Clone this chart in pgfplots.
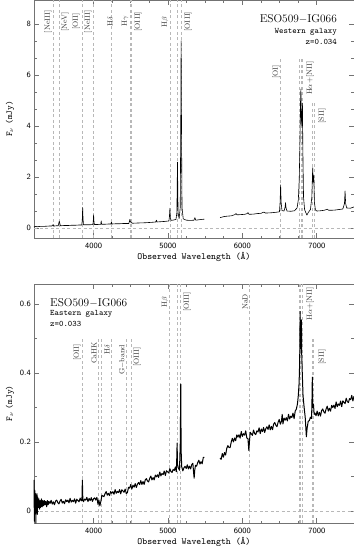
\documentclass[border=0pt]{standalone}
\usepackage{pgfplots}
\pgfplotsset{compat=1.18}
\definecolor{frm}{gray}{0.45}
\definecolor{dsh}{gray}{0.72}
\tikzset{
  spec/.style={black, line width=0.6bp, line join=round},
  vl/.style={dsh, line width=0.6bp, dash pattern=on 3bp off 2.5bp},
  lab/.style={rotate=90, anchor=center, inner sep=0pt, font=\fontsize{7.5}{8}\selectfont, text=black!80},
}
\pgfplotsset{
  specax/.style={
    scale only axis, width=320bp,
    xmin=3200, xmax=7500,
    xtick={4000,5000,6000,7000}, minor x tick num=3,
    tick align=inside, tick pos=both,
    xticklabel pos=lower, yticklabel pos=left,
    major tick length=5bp, minor tick length=2.5bp,
    axis line style={frm, line width=0.6bp},
    every tick/.style={frm, line width=0.6bp},
    scaled ticks=false,
    /pgf/number format/assume math mode=true,
    x tick label style={/pgf/number format/1000 sep={}, font=\sffamily\fontsize{8}{9}\selectfont, anchor=center, yshift=-8bp, inner sep=0pt},
    y tick label style={font=\sffamily\fontsize{8}{9}\selectfont, anchor=east, xshift=-3bp, inner sep=0pt},
    xlabel={\texttt{\fontsize{9.4}{10}\selectfont Observed Wavelength (\AA)}},
    ylabel={\fontsize{9}{10}\selectfont\texttt{F}$_{\nu}$ \texttt{(mJy)}},
    xlabel style={at={(axis description cs:0.5,-0.08)}, anchor=center, inner sep=0pt},
    ylabel style={at={(axis description cs:-0.075,0.5)}, anchor=center, inner sep=0pt},
    clip=false,
  },
}
\begin{document}
\begin{tikzpicture}
% ---------------- Western galaxy ----------------
\begin{axis}[specax, height=238bp, at={(34bp,0bp)}, anchor=north west,
  ymin=-0.4, ymax=8.95, ytick={0,2,4,6,8}, minor y tick num=2]
\draw[vl] (3200,0) -- (7500,0);
\pgfplotsinvokeforeach{3455,3540,3854,4001,4241,4488,4511,5026,5128,5177}{
  \draw[vl] (#1,-0.4) -- (#1,8.95);}
\draw[vl] (6514,-0.4) -- (6514,6.7);
\pgfplotsinvokeforeach{6771,6786,6807}{\draw[vl] (#1,-0.4) -- (#1,6.7);}
\pgfplotsinvokeforeach{6945,6960}{\draw[vl] (#1,-0.4) -- (#1,5.0);}
\addplot[spec] coordinates {
(3200,0.03)(3220,0.06)(3240,0.04)(3260,0.05)(3300,0.06)(3350,0.06)(3400,0.07)(3440,0.07)
(3455,0.12)(3470,0.07)(3500,0.08)(3525,0.08)(3540,0.26)(3555,0.08)(3600,0.09)(3650,0.09)
(3700,0.10)(3750,0.10)(3800,0.11)(3843,0.11)(3849,0.35)(3854,0.80)(3859,0.35)(3865,0.12)
(3900,0.12)(3950,0.12)(3992,0.13)(3997,0.30)(4001,0.51)(4005,0.28)(4011,0.13)(4050,0.13)
(4097,0.14)(4103,0.27)(4109,0.14)(4150,0.14)(4200,0.15)(4233,0.15)(4241,0.22)(4249,0.15)
(4300,0.16)(4350,0.16)(4400,0.17)(4474,0.17)(4482,0.25)(4488,0.33)(4494,0.24)(4511,0.20)
(4525,0.18)(4600,0.19)(4700,0.20)(4800,0.22)(4837,0.23)(4845,0.30)(4853,0.23)(4900,0.24)
(4950,0.25)(5013,0.27)(5020,0.45)(5026,0.77)(5032,0.40)(5042,0.29)(5080,0.31)(5108,0.33)
(5120,0.6)(5128,2.58)(5136,0.6)(5150,0.36)(5165,0.8)(5172,4.0)(5177,7.35)(5182,4.0)
(5189,0.8)(5205,0.36)(5220,0.33)(5250,0.30)(5300,0.29)(5350,0.30)(5362,0.40)(5374,0.30)
(5400,0.31)(5450,0.33)(5490,0.34)};
\addplot[spec] coordinates {
(5700,0.40)(5750,0.44)(5800,0.46)(5850,0.47)(5900,0.52)(5915,0.56)(5930,0.51)(5980,0.52)
(6030,0.53)(6065,0.56)(6075,0.60)(6090,0.53)(6150,0.54)(6200,0.56)(6250,0.57)(6290,0.62)
(6310,0.58)(6380,0.59)(6450,0.61)(6498,0.63)(6507,1.0)(6514,1.69)(6521,1.0)(6532,0.68)
(6560,0.66)(6573,0.80)(6580,0.99)(6587,0.78)(6600,0.66)(6650,0.65)(6700,0.67)(6735,0.78)
(6752,1.1)(6764,1.9)(6773,3.2)(6781,4.9)(6786,5.45)(6792,4.3)(6800,4.0)(6807,4.9)
(6813,3.0)(6822,1.2)(6836,0.72)(6852,0.6)(6868,0.50)(6885,0.60)(6915,0.72)(6933,1.2)
(6945,2.36)(6953,1.8)(6960,2.05)(6968,1.0)(6982,0.70)(7000,0.66)(7050,0.67)(7100,0.69)
(7140,0.73)(7160,0.69)(7200,0.69)(7250,0.70)(7300,0.72)(7350,0.74)(7372,0.95)(7380,1.45)
(7388,0.95)(7402,0.78)(7450,0.77)(7500,0.82)};
\node[lab] at (3388,8.1) {[NeIII]};
\node[lab] at (3617,8.1) {[NeV]};
\node[lab] at (3765,8.1) {[OII]};
\node[lab] at (3926,8.1) {[NeIII]};
\node[lab] at (4221,8.1) {H$\delta$};
\node[lab] at (4423,8.1) {H$\gamma$};
\node[lab] at (4598,8.1) {[OIII]};
\node[lab] at (4961,8.1) {H$\beta$};
\node[lab] at (5270,8.1) {[OIII]};
\node[lab] at (6453,6.12) {[OI]};
\node[lab] at (6910,5.88) {H$\alpha$+[NII]};
\node[lab] at (7071,4.39) {[SII]};
\node[anchor=east, inner sep=0pt, font=\fontsize{11.4}{12}\selectfont] at (axis description cs:0.947,0.92) {ESO509$-$IG066};
\node[anchor=east, inner sep=0pt, font=\ttfamily\fontsize{8.4}{9}\selectfont] at (axis description cs:0.947,0.866) {Western galaxy};
\node[anchor=east, inner sep=0pt, font=\ttfamily\fontsize{8.4}{9}\selectfont] at (axis description cs:0.947,0.824) {z=0.034};
\end{axis}
% ---------------- Eastern galaxy ----------------
\begin{axis}[specax, height=239bp, at={(34bp,-284bp)}, anchor=north west,
  ymin=-0.035, ymax=0.658, ytick={0,0.2,0.4,0.6}, minor y tick num=1,
  y tick label style={/pgf/number format/fixed}]
\draw[vl] (3200,0) -- (7500,0);
\pgfplotsinvokeforeach{5022,5123,5172,6087,6764,6780,6800}{
  \draw[vl] (#1,-0.035) -- (#1,0.658);}
\pgfplotsinvokeforeach{3850,4064,4099,4237,4446,4507,6939,6953}{
  \draw[vl] (#1,-0.035) -- (#1,0.50);}
\addplot[spec, line width=1bp] coordinates {
(3200,0.09)(3205,-0.03)(3210,0.06)(3215,0.00)(3220,0.05)(3225,-0.035)(3230,0.04)(3235,0.01)
(3240,0.05)(3245,-0.01)(3250,0.04)(3258,0.01)(3266,0.035)(3274,0.005)(3282,0.03)(3290,0.01)
(3300,0.035)(3310,0.012)(3320,0.03)(3330,0.015)(3340,0.03)(3350,0.018)(3360,0.028)(3370,0.012)
(3380,0.03)(3390,0.018)
(3400,0.028)(3415,0.0218)(3430,0.0309)(3445,0.0199)(3460,0.0266)(3475,0.018)(3490,0.0286)(3505,0.0313)
(3520,0.0243)(3535,0.0205)(3550,0.0288)(3565,0.0338)(3580,0.0229)(3595,0.0279)(3610,0.0209)(3625,0.0324)
(3640,0.027)(3655,0.0313)(3670,0.0235)(3685,0.0365)(3700,0.0256)(3715,0.0306)(3730,0.0268)(3745,0.0351)
(3760,0.0225)(3775,0.034)(3790,0.0302)(3805,0.0264)(3820,0.0371)(3835,0.0293)(3844,0.03)(3850,0.09)
(3856,0.035)(3865,0.0267)(3880,0.0342)(3895,0.0313)(3910,0.0396)(3925,0.0271)(3940,0.0362)(3955,0.0301)
(3970,0.0384)(3985,0.0275)(4000,0.035)(4015,0.038)(4030,0.0316)(4045,0.0394)(4060,0.0192)(4072,0.0316)
(4085,0.0148)(4100,0.0292)(4112,0.0456)(4125,0.0434)(4140,0.0414)(4155,0.0504)(4170,0.0562)(4185,0.0456)
(4200,0.051)(4215,0.0444)(4230,0.0562)(4245,0.0512)(4260,0.0558)(4275,0.0484)(4290,0.0618)(4305,0.0512)
(4320,0.0566)(4335,0.0532)(4350,0.0618)(4365,0.0496)(4380,0.0614)(4395,0.058)(4410,0.054)(4425,0.0634)
(4440,0.0504)(4455,0.0532)(4470,0.0684)(4485,0.0662)(4500,0.0765)(4515,0.0634)(4530,0.0747)(4545,0.0689)
(4560,0.0792)(4575,0.068)(4590,0.0775)(4605,0.0825)(4620,0.0766)(4635,0.0879)(4650,0.0767)(4665,0.0852)
(4680,0.0767)(4695,0.0898)(4710,0.0938)(4725,0.0871)(4740,0.084)(4755,0.0943)(4770,0.1011)(4785,0.0899)
(4800,0.0966)(4815,0.0899)(4830,0.1039)(4845,0.0989)(4860,0.1048)(4875,0.0972)(4890,0.1129)(4905,0.1017)
(4920,0.1085)(4935,0.1053)(4950,0.1157)(4965,0.1027)(4980,0.1166)(4995,0.1135)(5010,0.11)(5025,0.1225)
(5040,0.1143)(5055,0.1115)(5070,0.1204)(5085,0.1176)(5100,0.1274)(5112,0.1137)(5118,0.15)(5123,0.197)
(5128,0.135)(5140,0.1243)(5155,0.1179)(5166,0.2)(5172,0.368)(5177,0.175)(5185,0.128)(5200,0.1162)
(5215,0.1251)(5230,0.1295)(5245,0.1231)(5260,0.1338)(5275,0.122)(5290,0.13)(5305,0.1219)(5320,0.1346)
(5335,0.1383)(5345,0.11)(5352,0.095)(5360,0.118)(5370,0.1322)(5385,0.1297)(5400,0.1402)(5415,0.1471)
(5430,0.136)(5445,0.1429)(5460,0.1368)(5475,0.1554)(5490,0.1551)};
\addplot[spec, line width=1bp] coordinates {
(5700,0.1535)(5715,0.1495)(5730,0.1664)(5745,0.1558)(5760,0.1694)(5775,0.1621)(5790,0.1812)(5805,0.1893)
(5820,0.1842)(5835,0.1835)(5850,0.1993)(5865,0.2107)(5880,0.2001)(5895,0.2115)(5910,0.2037)(5925,0.2204)
(5940,0.2141)(5955,0.2209)(5970,0.2112)(5985,0.2302)(6000,0.2161)(6015,0.224)(6030,0.2199)(6045,0.2322)
(6060,0.2111)(6075,0.21)(6087,0.175)(6095,0.2)(6105,0.228)(6120,0.2236)(6135,0.2191)(6150,0.2345)
(6165,0.2246)(6180,0.2213)(6195,0.2322)(6210,0.2289)(6225,0.241)(6240,0.2244)(6255,0.2376)(6270,0.2299)
(6285,0.242)(6300,0.2276)(6315,0.2386)(6330,0.2441)(6345,0.2363)(6360,0.2495)(6375,0.2352)(6390,0.2451)
(6405,0.2356)(6420,0.2516)(6435,0.2565)(6450,0.2483)(6465,0.2444)(6480,0.2571)(6495,0.2653)(6510,0.2516)
(6525,0.2598)(6535,0.28)(6545,0.2522)(6560,0.2692)(6575,0.2632)(6590,0.2703)(6605,0.261)(6620,0.2802)
(6635,0.2665)(6650,0.2747)(6665,0.2709)(6680,0.2835)(6695,0.2676)(6710,0.2895)(6725,0.295)(6740,0.31)
(6752,0.335)(6762,0.37)(6770,0.43)(6776,0.578)(6782,0.47)(6788,0.50)(6793,0.554)(6798,0.45)
(6805,0.40)(6815,0.335)(6830,0.30)(6845,0.27)(6860,0.215)(6870,0.24)(6885,0.26)(6900,0.262)
(6915,0.272)(6928,0.268)(6934,0.30)(6940,0.388)(6946,0.30)(6955,0.31)(6965,0.28)(6975,0.2835)
(6990,0.2761)(7005,0.2897)(7020,0.2757)(7035,0.2859)(7050,0.2752)(7065,0.291)(7080,0.2957)(7095,0.2872)
(7110,0.2832)(7125,0.2956)(7140,0.3036)(7155,0.2896)(7170,0.2977)(7185,0.2892)(7200,0.306)(7215,0.2998)
(7230,0.3067)(7245,0.2971)(7260,0.3161)(7275,0.3022)(7290,0.3102)(7305,0.3061)(7320,0.3186)(7335,0.3024)
(7350,0.3192)(7365,0.3151)(7380,0.3111)(7395,0.3268)(7410,0.3172)(7425,0.3143)(7440,0.3256)(7455,0.3226)
(7470,0.335)(7485,0.3189)(7500,0.3324)};
\node[lab] at (4961,0.606) {H$\beta$};
\node[lab] at (5256,0.606) {[OIII]};
\node[lab] at (6036,0.606) {NaD};
\node[lab] at (6910,0.60) {H$\alpha$+[NII]};
\node[lab] at (3778,0.46) {[OII]};
\node[lab] at (4006,0.458) {CaHK};
\node[lab] at (4181,0.467) {H$\delta$};
\node[lab] at (4383,0.438) {G$-$band};
\node[lab] at (4584,0.446) {[OIII]};
\node[lab] at (7071,0.446) {[SII]};
\node[anchor=west, inner sep=0pt, font=\fontsize{11.4}{12}\selectfont] at (axis description cs:0.05,0.92) {ESO509$-$IG066};
\node[anchor=west, inner sep=0pt, font=\ttfamily\fontsize{8.4}{9}\selectfont] at (axis description cs:0.05,0.874) {Eastern galaxy};
\node[anchor=west, inner sep=0pt, font=\ttfamily\fontsize{8.4}{9}\selectfont] at (axis description cs:0.05,0.833) {z=0.033};
\end{axis}
\pgfresetboundingbox
\path (0bp,0bp) rectangle (354bp,-546bp);
\end{tikzpicture}
\end{document}
